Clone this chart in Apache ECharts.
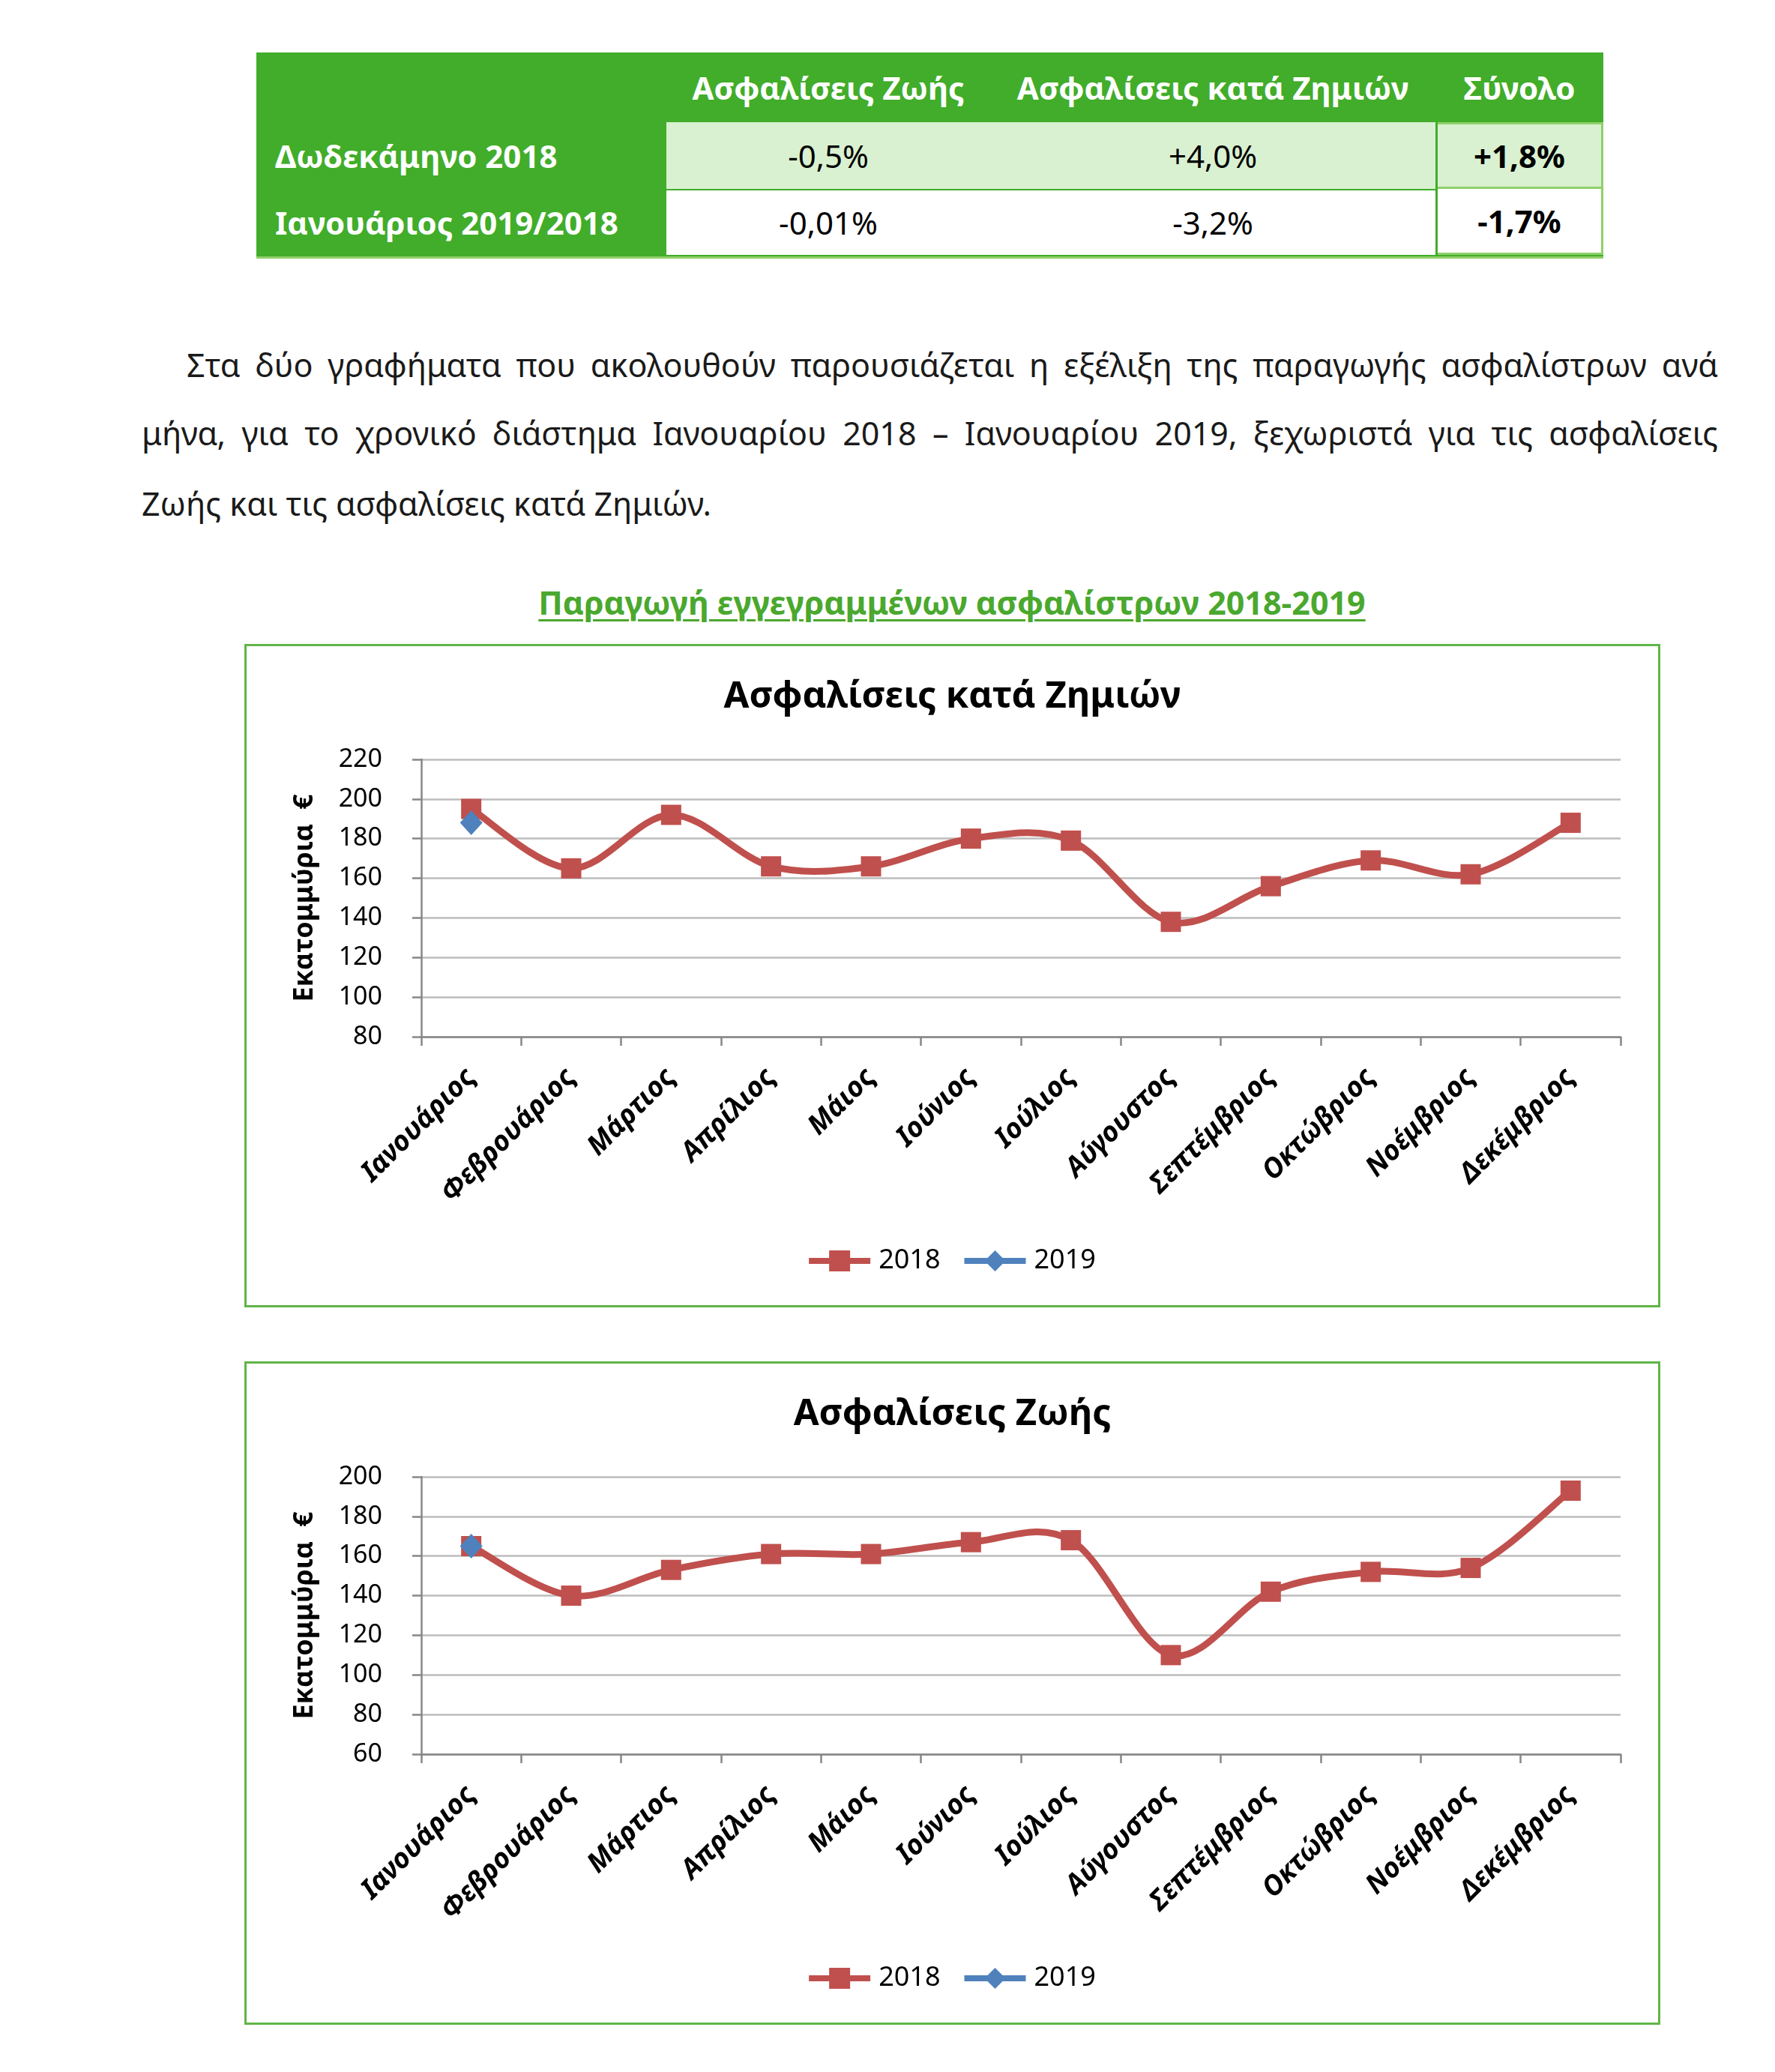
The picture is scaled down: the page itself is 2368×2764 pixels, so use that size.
<!DOCTYPE html>
<html>
<head>
<meta charset="utf-8">
<script src="https://cdn.jsdelivr.net/npm/echarts@6/dist/echarts.min.js"></script>
<style>
html,body{margin:0;padding:0;background:#fff;}
body{width:2368px;height:2764px;position:relative;font-family:"Noto Sans",sans-serif;color:#000;overflow:hidden;}
.abs{position:absolute;box-sizing:border-box;}
.cell{position:absolute;box-sizing:border-box;display:flex;align-items:center;justify-content:center;font-size:42px;white-space:nowrap;}
.hdr{color:#fff;font-weight:bold;}
.lbl{color:#fff;font-weight:bold;justify-content:flex-start;padding-left:25px;}
.para{position:absolute;left:189px;width:2103px;font-size:43px;line-height:92px;color:#1a1a1a;white-space:nowrap;box-sizing:border-box;}
.just{text-align:justify;text-align-last:justify;}
.frame{position:absolute;left:326px;width:1889px;height:885px;border:3px solid #5fb548;box-sizing:border-box;}
</style>
</head>
<body>
<div id="table"></div>

<div class="para just" style="top:441px;padding-left:60px;">Στα δύο γραφήματα που ακολουθούν παρουσιάζεται η εξέλιξη της παραγωγής ασφαλίστρων ανά</div>
<div class="para just" style="top:532px;">μήνα, για το χρονικό διάστημα Ιανουαρίου 2018 – Ιανουαρίου 2019, ξεχωριστά για τις ασφαλίσεις</div>
<div class="para" style="top:626px;">Ζωής και τις ασφαλίσεις κατά Ζημιών.</div>

<div class="abs" style="left:70px;width:2400px;top:776px;text-align:center;font-size:43px;line-height:56px;font-weight:bold;color:#4aa82e;"><span style="text-decoration:underline;text-underline-offset:6px;text-decoration-thickness:3px;">Παραγωγή εγγεγραμμένων ασφαλίστρων 2018-2019</span></div>

<div id="c1" class="frame" style="top:859px;"></div>
<div id="c2" class="frame" style="top:1816px;"></div>

<script>
// ---------- data ----------
const tableCols = ['Ασφαλίσεις Ζωής', 'Ασφαλίσεις κατά Ζημιών', 'Σύνολο'];
const tableRows = ['Δωδεκάμηνο 2018', 'Ιανουάριος 2019/2018'];
const tableValues = [['-0,5%', '+4,0%', '+1,8%'], ['-0,01%', '-3,2%', '-1,7%']];

const months = ['Ιανουάριος','Φεβρουάριος','Μάρτιος','Απρίλιος','Μάιος','Ιούνιος','Ιούλιος','Αύγουστος','Σεπτέμβριος','Οκτώβριος','Νοέμβριος','Δεκέμβριος'];
const seriesNames = ['2018', '2019'];

const damage2018 = [195, 165, 192, 166, 166, 180, 179, 138, 156, 169, 162, 188];
const damage2019 = [188];
const damageTicks = [80, 100, 120, 140, 160, 180, 200, 220];

const life2018 = [165, 140, 153, 161, 161, 167, 168, 110, 142, 152, 154, 193];
const life2019 = [165];
const lifeTicks = [60, 80, 100, 120, 140, 160, 180, 200];

const chartTitles = ['Ασφαλίσεις κατά Ζημιών', 'Ασφαλίσεις Ζωής'];
const yAxisName = 'Εκατομμύρια  €';

// ---------- table ----------
(function buildTable(){
  const t = document.getElementById('table');
  const L = 342, T = 70, W = 1797, H = 272;
  const colX = [889, 1321, 1915, 2139];
  const rowY = [163, 252, 340];
  let h = '';
  h += `<div class="abs" style="left:${L}px;top:${T}px;width:${W}px;height:${H}px;background:#41ad2a;"></div>`;
  h += `<div class="abs" style="left:${L}px;top:${T+H}px;width:${W}px;height:3px;background:#8fd06a;"></div>`;
  for (let c = 0; c < 3; c++) {
    h += `<div class="cell hdr" style="left:${colX[c]}px;top:${T}px;width:${colX[c+1]-colX[c]}px;height:${rowY[0]-T}px;">${tableCols[c]}</div>`;
  }
  for (let r = 0; r < 2; r++) {
    const y0 = rowY[r], y1 = rowY[r+1];
    const bg = r === 0 ? '#d9f1d1' : '#ffffff';
    h += `<div class="cell lbl" style="left:${L}px;top:${y0}px;width:${colX[0]-L}px;height:${y1-y0}px;">${tableRows[r]}</div>`;
    h += `<div class="abs" style="left:${colX[0]}px;top:${y0+(r?2:0)}px;width:${colX[2]-colX[0]}px;height:${y1-y0-(r?2:0)}px;background:${bg};"></div>`;
    for (let c = 0; c < 2; c++) {
      h += `<div class="cell" style="left:${colX[c]}px;top:${y0}px;width:${colX[c+1]-colX[c]}px;height:${y1-y0}px;">${tableValues[r][c]}</div>`;
    }
    h += `<div class="cell" style="left:${colX[2]+3}px;top:${y0}px;width:${colX[3]-colX[2]-3}px;height:${y1-y0}px;background:${bg};border:3px solid #8fd06a;border-left:none;${r? 'border-top:none;':''}font-weight:bold;">${tableValues[r][2]}</div>`;
  }
  t.innerHTML = h;
})();

// ---------- charts ----------
const iconSquare = 'path://M0,10 H27 V0 H55 V10 H82 V18 H55 V28 H27 V18 H0 Z';
const iconDiamond = 'path://M0,10 H31 L41,0 L51,10 H82 V18 H51 L41,28 L31,18 H0 Z';

function makeChart(id, title, d18, d19, ticks) {
  const chart = echarts.init(document.getElementById(id), null, {renderer: 'canvas'});
  const font = '"Noto Sans", sans-serif';
  const red = '#c0504d', blue = '#4f81bd';
  // smooth curve (Catmull-Rom style, like the spreadsheet smoothing) drawn through the axis scales
  const curveItem = function (params, api) {
    const i = params.dataIndex;
    const n = d18.length;
    if (i >= n - 1) return null;
    const p = function (j) { j = Math.max(0, Math.min(n - 1, j)); return api.coord([j, d18[j]]); };
    const p0 = p(i - 1), p1 = p(i), p2 = p(i + 1), p3 = p(i + 2);
    return {
      type: 'bezierCurve',
      shape: {
        x1: p1[0], y1: p1[1], x2: p2[0], y2: p2[1],
        cpx1: p1[0] + (p2[0] - p0[0]) / 6, cpy1: p1[1] + (p2[1] - p0[1]) / 6,
        cpx2: p2[0] - (p3[0] - p1[0]) / 6, cpy2: p2[1] - (p3[1] - p1[1]) / 6
      },
      style: {stroke: red, lineWidth: 9, fill: 'none', lineCap: 'round'}
    };
  };
  chart.setOption({
    animation: false,
    backgroundColor: '#ffffff',
    textStyle: {fontFamily: font},
    title: {
      text: title, left: 'center', top: 39,
      textStyle: {fontSize: 49, fontWeight: 'bold', color: '#000', fontFamily: font}
    },
    legend: {
      data: [{name: seriesNames[0], icon: iconSquare}, {name: seriesNames[1], icon: iconDiamond}],
      left: 'center', top: 797,
      itemWidth: 82, itemHeight: 28, itemGap: 32,
      textStyle: {fontSize: 36, color: '#000', fontFamily: font, padding: [0, 0, 0, 6]}
    },
    grid: {left: 233, top: 151, width: 1600, height: 370},
    xAxis: {
      type: 'category', data: months, boundaryGap: true,
      axisLine: {show: true, lineStyle: {color: '#878787', width: 2.5}},
      axisTick: {show: true, length: 12, alignWithLabel: false, lineStyle: {color: '#878787', width: 2.5}},
      axisLabel: {interval: 0, rotate: 45, margin: 48, fontSize: 37, fontWeight: 'bold', fontStyle: 'italic', color: '#000', fontFamily: font},
      splitLine: {show: false}
    },
    yAxis: {
      type: 'value', min: ticks[0], max: ticks[ticks.length - 1], interval: ticks[1] - ticks[0],
      name: yAxisName, nameLocation: 'middle', nameGap: 137,
      nameTextStyle: {fontSize: 36, fontWeight: 'bold', color: '#000', fontFamily: font},
      axisLine: {show: true, lineStyle: {color: '#878787', width: 2.5}},
      axisTick: {show: true, length: 12, lineStyle: {color: '#878787', width: 2.5}},
      axisLabel: {margin: 52, fontSize: 34, color: '#000', fontFamily: font},
      splitLine: {show: true, lineStyle: {color: '#bcbcbc', width: 2.5}}
    },
    series: [
      {
        type: 'custom', silent: true, z: 2,
        data: d18.map(function (v, i) { return [i, v]; }),
        encode: {x: 0, y: 1},
        renderItem: curveItem
      },
      {
        name: seriesNames[0], type: 'line', data: d18,
        symbol: 'rect', symbolSize: 27, showAllSymbol: true,
        lineStyle: {color: red, width: 0, opacity: 0},
        itemStyle: {color: red}, z: 3
      },
      {
        name: seriesNames[1], type: 'line', data: d19,
        symbol: 'diamond', symbolSize: [30, 33],
        lineStyle: {color: blue, width: 8},
        itemStyle: {color: blue}, z: 4
      }
    ]
  });
  return chart;
}
makeChart('c1', chartTitles[0], damage2018, damage2019, damageTicks);
makeChart('c2', chartTitles[1], life2018, life2019, lifeTicks);
</script>
</body>
</html>
